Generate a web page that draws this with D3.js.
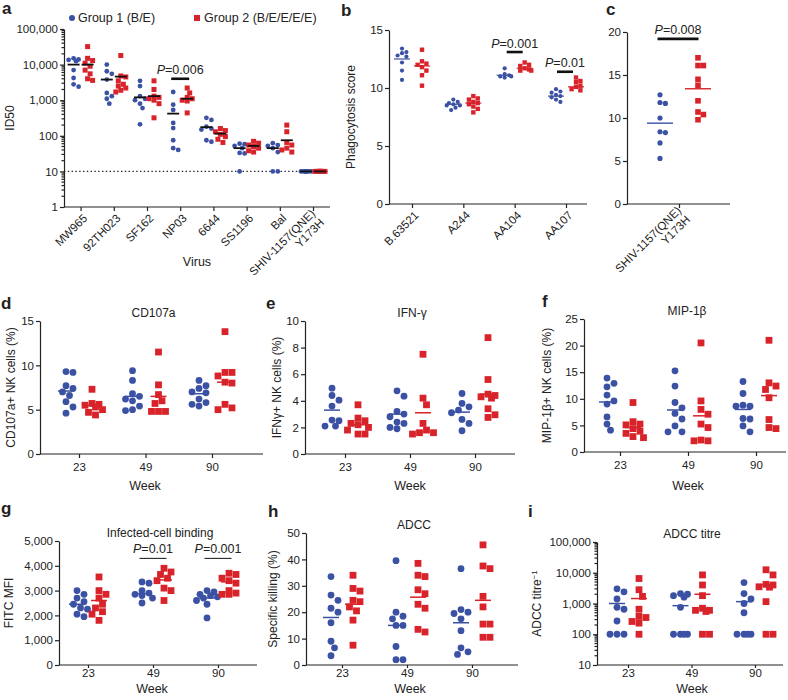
<!DOCTYPE html>
<html>
<head>
<meta charset="utf-8">
<script src="https://cdn.jsdelivr.net/npm/d3@7"></script>
<style>
  body { margin: 0; background: #fff; }
  text { font-family: "Liberation Sans", Arial, Helvetica, sans-serif; fill: #222; }
  .axis path, .axis line { stroke: #222; stroke-width: 1.2; }
</style>
</head>
<body>
<svg id="fig" width="788" height="700"></svg>
<script>
const BLUE = "#3b51a3";
const RED = "#d8232a";

// a: neutralisation ID50 per virus
const viruses = ["MW965", "92TH023", "SF162", "NP03", "6644", "SS1196", "Bal", "SHIV-1157(QNE)\nY173H"];
const id50G1 = [
  [15000, 14000, 13500, 12500, 7000, 4200, 2800, 2400],
  [10000, 6500, 5500, 3800, 1600, 1300, 1100, 800],
  [3500, 2500, 1300, 1100, 1000, 800, 600, 210],
  [1700, 750, 530, 230, 165, 75, 45, 40],
  [320, 280, 180, 160, 150, 75, 68],
  [60, 58, 52, 45, 33, 32, 10],
  [62, 55, 52, 45, 35, 10, 10],
  [10, 10, 10, 10, 10, 10, 10, 10]
];
const id50G2 = [
  [32000, 15000, 13000, 11000, 9000, 7000, 5500, 4000, 3600],
  [18000, 4800, 4500, 3500, 2800, 2500, 2200, 1900, 1700],
  [3500, 2000, 1300, 1200, 1100, 1000, 800, 320],
  [2200, 1600, 1200, 1100, 1000, 950, 440],
  [160, 140, 130, 110, 95, 80, 65],
  [70, 62, 55, 50, 45, 38, 35],
  [200, 130, 65, 55, 45, 40, 35],
  [10, 10, 10, 10, 10, 10, 10, 10]
];
const id50Mean1 = [10000, 3800, 1200, 420, 175, 45, 45, 10];
const id50Mean2 = [10000, 4600, 1300, 1100, 115, 52, 75, 10];

// b: phagocytosis
const phagoCats = ["B.63521", "A244", "AA104", "AA107"];
const phagoG1 = [
  [13.4, 13.1, 13.0, 12.8, 12.7, 12.2, 11.5, 10.7],
  [9.0, 8.8, 8.7, 8.6, 8.5, 8.5, 8.3, 8.1],
  [11.7, 11.2, 11.1, 11.0, 11.0, 10.9],
  [9.9, 9.7, 9.6, 9.4, 9.3, 9.2, 9.0, 8.8]
];
const phagoG2 = [
  [13.3, 12.3, 12.1, 12.0, 11.8, 11.5, 11.1, 10.2],
  [9.3, 9.1, 9.0, 8.8, 8.7, 8.6, 8.4, 8.2, 7.9],
  [12.2, 12.0, 11.9, 11.7, 11.6, 11.5, 11.5],
  [10.9, 10.6, 10.5, 10.2, 10.1, 9.9, 9.8]
];
const phagoMean1 = [12.5, 8.6, 11.1, 9.3];
const phagoMean2 = [11.9, 8.7, 11.7, 10.1];

// c: SHIV phagocytosis
const shivCats = ["SHIV-1157(QNE)\nY173H"];
const shivG1 = [[12.7, 11.8, 11.7, 10.0, 8.4, 8.3, 7.1, 5.3]];
const shivG2 = [[17.0, 16.1, 16.1, 14.5, 13.8, 12.0, 10.7, 10.4, 9.8]];
const shivMean1 = [9.4];
const shivMean2 = [13.4];

const weeks = ["23", "49", "90"];

// d: CD107a
const cd107G1 = [[9.3, 9.2, 7.7, 7.4, 7.0, 5.9, 5.3, 4.6, 6.6], [9.4, 8.3, 6.8, 6.5, 6.2, 6.0, 5.4, 5.0, 4.9], [8.3, 7.7, 7.4, 7.0, 6.9, 6.2, 5.8, 5.6, 5.4]];
const cd107G2 = [[7.3, 5.7, 5.6, 5.5, 5.3, 5.0, 4.7, 4.4], [11.5, 7.8, 6.7, 6.0, 5.7, 4.8, 4.8, 4.8], [13.8, 9.2, 9.2, 8.8, 8.1, 8.0, 5.6, 5.2, 5.0]];
const cd107Mean1 = [7.1, 6.5, 6.8];
const cd107Mean2 = [5.5, 6.5, 8.1];

// e: IFN-gamma
const ifnG1 = [[4.95, 4.4, 4.05, 3.6, 2.55, 2.5, 2.1, 2.1], [4.75, 4.35, 3.2, 3.0, 2.8, 2.4, 2.3, 2.0, 1.9], [4.55, 3.8, 3.55, 3.3, 3.1, 2.6, 2.3, 1.75]];
const ifnG2 = [[3.7, 2.7, 2.5, 2.3, 2.2, 2.0, 1.8, 1.5, 1.5], [7.5, 4.2, 3.7, 2.3, 1.8, 1.6, 1.6, 1.5], [8.75, 5.6, 4.5, 4.4, 4.3, 4.2, 3.4, 2.95, 2.75]];
const ifnMean1 = [3.3, 3.0, 3.15];
const ifnMean2 = [2.2, 3.1, 4.5];

// f: MIP-1beta
const mipG1 = [[13.9, 12.9, 12.25, 10.7, 9.6, 9.0, 6.6, 5.25, 4.1], [15.25, 12.4, 9.3, 8.3, 7.25, 6.2, 4.9, 3.8, 3.8], [13.25, 11.0, 8.8, 8.6, 8.6, 6.3, 6.2, 4.9, 3.8]];
const mipG2 = [[9.3, 5.7, 5.25, 5.1, 4.4, 3.9, 3.5, 2.9, 2.7], [20.5, 9.6, 8.0, 7.1, 5.25, 4.6, 2.25, 2.1, 2.1], [21.0, 13.0, 12.4, 11.75, 10.2, 6.1, 4.6, 4.4]];
const mipMean1 = [9.4, 7.9, 8.0];
const mipMean2 = [4.6, 6.8, 10.6];

// g: infected-cell binding
const bindG1 = [[3000, 2850, 2700, 2550, 2450, 2300, 2250, 2050, 1950], [3350, 3300, 3000, 2900, 2850, 2800, 2700, 2500], [3000, 2950, 2850, 2800, 2750, 2700, 2600, 2450, 1900]];
const bindG2 = [[3550, 3000, 2850, 2700, 2450, 2300, 2150, 2050, 1800], [3900, 3750, 3650, 3500, 3400, 3100, 3000, 2600], [3700, 3650, 3500, 3400, 3300, 3000, 2900, 2850, 2850]];
const bindMean1 = [2450, 2880, 2700];
const bindMean2 = [2600, 3430, 3350];

// h: ADCC specific killing
const adccG1 = [[33.5, 26.5, 24.5, 21.5, 20, 16, 9, 6.5, 3.5], [39.5, 20, 18.5, 17.5, 15, 15, 7, 2, 2], [36.5, 21, 20, 19.5, 17.5, 13, 6.5, 5, 4]];
const adccG2 = [[34, 29, 28, 24.5, 24, 22, 20.5, 17, 7.5], [38.5, 34, 33.5, 28.5, 27, 23, 21.5, 13.5, 12.5], [45.5, 37.5, 36.5, 26, 22, 15.5, 15.5, 10.5, 10.5]];
const adccMean1 = [18, 15, 16];
const adccMean2 = [23, 25.7, 24.5];

// i: ADCC titre
const titreG1 = [[3000, 2400, 1400, 750, 650, 270, 100, 100, 100], [2100, 2000, 1800, 1600, 750, 100, 100, 100, 100], [4800, 2100, 1400, 1000, 500, 100, 100, 100, 100]];
const titreG2 = [[6500, 2800, 1700, 650, 380, 350, 260, 230, 100], [8500, 4000, 1800, 700, 600, 600, 550, 100, 100], [12500, 8500, 4200, 4000, 3500, 3400, 1150, 100, 100]];
const titreMean1 = [1000, 850, 1150];
const titreMean2 = [1450, 2000, 4000];

const svg = d3.select("#fig");
const comma = d3.format(",");

// simple beeswarm so points with similar values sit side by side
function swarm(vals, y, cx, dist, maxOff) {
  const pts = vals.map(v => ({ v, y: y(v) })).sort((a, b) => a.y - b.y);
  const done = [];
  pts.forEach(p => {
    let best = cx, bestD = -1;
    for (let k = 0; k < 40; k++) {
      const dx = k === 0 ? 0 : (k % 2 ? 1 : -1) * Math.ceil(k / 2) * dist / 2;
      if (Math.abs(dx) > maxOff) continue;
      const x = cx + dx;
      const dmin = done.length ? d3.min(done, q => Math.hypot(q.x - x, q.y - p.y)) : Infinity;
      if (dmin >= dist) { best = x; break; }
      if (dmin > bestD) { bestD = dmin; best = x; }
    }
    p.x = best;
    done.push(p);
  });
  return done;
}

function dotPanel(o) {
  const g = svg.append("g");
  const y = (o.log ? d3.scaleLog() : d3.scaleLinear()).domain(o.yDomain).range([o.bottom, o.top]);
  const x = d3.scalePoint().domain(o.cats).range([o.c0, o.c1]);

  const ya = g.append("g").attr("class", "axis")
    .attr("transform", `translate(${o.x0},0)`)
    .call(d3.axisLeft(y).tickValues(o.yTicks).tickFormat(o.fmt || comma).tickSize(4).tickSizeOuter(0))
    .attr("font-size", 11.5);
  ya.selectAll(".tick text").attr("x", -6);
  if (o.log) {
    const minor = [];
    d3.range(Math.log10(o.yDomain[0]), Math.log10(o.yDomain[1])).forEach(k => {
      d3.range(2, 10).forEach(m => minor.push(m * Math.pow(10, k)));
    });
    ya.selectAll(".minor").data(minor).join("line")
      .attr("x1", -2.5).attr("x2", 0)
      .attr("y1", d => y(d)).attr("y2", d => y(d))
      .attr("stroke", "#222").attr("stroke-width", 0.8);
  }

  const xa = g.append("g").attr("class", "axis")
    .attr("transform", `translate(0,${o.bottom})`)
    .call(d3.axisBottom(x).tickSize(o.xTick || 4).tickSizeOuter(0))
    .attr("font-size", 11.5);
  xa.select(".domain").attr("d", `M${o.x0},0H${o.x1}`);
  if (o.rotate) {
    xa.selectAll(".tick text").each(function (d) {
      const t = d3.select(this).text("").attr("y", 0).attr("dy", null)
        .attr("text-anchor", "end").attr("transform", "translate(4,9) rotate(-45)");
      const lines = d.split("\n");
      lines.forEach((s, i) => t.append("tspan").attr("x", 0)
        .attr("dy", i === 0 ? `${0.35 - (lines.length - 1) * 0.55}em` : "1.1em").text(s));
    });
  } else {
    xa.selectAll(".tick text").attr("y", o.xPad || 9);
  }

  if (o.refLine) {
    g.append("line").attr("x1", o.x0).attr("x2", o.x1)
      .attr("y1", y(o.refLine)).attr("y2", y(o.refLine))
      .attr("stroke", "#223").attr("stroke-width", 1.2).attr("stroke-dasharray", "1.4,2.4");
  }

  o.cats.forEach((c, i) => {
    const cb = x(c) - o.off, cr = x(c) + o.off;
    const pb = swarm(o.g1[i], y, cb, o.dist, o.maxOff);
    const pr = swarm(o.g2[i], y, cr, o.dist, o.maxOff);
    g.append("g").selectAll("circle").data(pb).join("circle")
      .attr("cx", d => d.x).attr("cy", d => d.y).attr("r", o.r).attr("fill", BLUE);
    g.append("g").selectAll("rect").data(pr).join("rect")
      .attr("x", d => d.x - o.sq / 2).attr("y", d => d.y - o.sq / 2)
      .attr("width", o.sq).attr("height", o.sq).attr("fill", RED);
    [[cb, o.m1[i], BLUE], [cr, o.m2[i], RED]].forEach(([cx, m, col]) => {
      g.append("line").attr("x1", cx - o.meanW / 2).attr("x2", cx + o.meanW / 2)
        .attr("y1", y(m)).attr("y2", y(m))
        .attr("stroke", o.meanColor || col).attr("stroke-width", o.meanSW || 1.4);
    });
  });

  (o.pvals || []).forEach(p => {
    const cx = x(p.cat) + (p.shift || 0);
    const ly = y(p.level);
    g.append("line").attr("x1", cx - p.w / 2).attr("x2", cx + p.w / 2)
      .attr("y1", ly).attr("y2", ly).attr("stroke", "#111").attr("stroke-width", p.sw);
    const t = g.append("text").attr("x", cx).attr("y", ly - p.gap)
      .attr("text-anchor", "middle").attr("font-size", 12.5);
    t.append("tspan").attr("font-style", "italic").text("P");
    t.append("tspan").text("=" + p.label);
  });

  if (o.title) {
    g.append("text").attr("x", (o.x0 + o.x1) / 2 + 2).attr("y", o.top - 4)
      .attr("text-anchor", "middle").attr("font-size", 12).text(o.title);
  }
  if (o.ylab) {
    const t = g.append("text").attr("transform", `translate(${o.ylabX},${(o.top + o.bottom) / 2}) rotate(-90)`)
      .attr("text-anchor", "middle").attr("font-size", 12).text(o.ylab);
    if (o.ylabSup) t.append("tspan").attr("dy", "-0.45em").attr("font-size", 8).text(o.ylabSup);
  }
  if (o.xlab) {
    g.append("text").attr("x", o.xlabX).attr("y", o.xlabY)
      .attr("text-anchor", "middle").attr("font-size", 12.5).text(o.xlab);
  }
  svg.append("text").attr("x", o.letter[1]).attr("y", o.letter[2])
    .attr("font-size", 17).attr("font-weight", "bold").text(o.letter[0]);
  return { x, y };
}

const rowPanel = { r: 3.4, sq: 6.8, dist: 7, maxOff: 12, meanW: 16, meanSW: 1.5 };
const lowRow = { xTick: 3, xPad: 4 };

dotPanel({
  x0: 64, x1: 330, top: 29, bottom: 207, c0: 80.6, c1: 313, cats: viruses,
  log: true, yDomain: [1, 100000], yTicks: [1, 10, 100, 1000, 10000, 100000],
  g1: id50G1, g2: id50G2, m1: id50Mean1, m2: id50Mean2,
  off: 7, r: 2.4, sq: 5, dist: 5, maxOff: 6, meanW: 12, meanColor: "#111", meanSW: 1.8,
  rotate: true, refLine: 10,
  pvals: [{ cat: "NP03", level: 4000, w: 18, sw: 2.6, gap: 5, label: "0.006" }],
  ylab: "ID50", ylabX: 14, xlab: "Virus", xlabX: 197, xlabY: 266, letter: ["a", 2, 14]
});

// legend for panel a
svg.append("circle").attr("cx", 72).attr("cy", 18).attr("r", 3).attr("fill", BLUE);
svg.append("text").attr("x", 78).attr("y", 22).attr("font-size", 12.5).text("Group 1 (B/E)");
svg.append("rect").attr("x", 194).attr("y", 15).attr("width", 6).attr("height", 6).attr("fill", RED);
svg.append("text").attr("x", 204).attr("y", 22).attr("font-size", 12.5).text("Group 2 (B/E/E/E/E)");

dotPanel({
  x0: 389, x1: 587, top: 30, bottom: 204, c0: 412, c1: 566, cats: phagoCats,
  yDomain: [0, 15], yTicks: [0, 5, 10, 15], fmt: d3.format("d"),
  g1: phagoG1, g2: phagoG2, m1: phagoMean1, m2: phagoMean2,
  off: 10, r: 2.1, sq: 4.4, dist: 4.4, maxOff: 7, meanW: 16, meanSW: 1.2, rotate: true,
  pvals: [
    { cat: "AA104", shift: 0, level: 13.1, w: 16, sw: 2.6, gap: 4, label: "0.001" },
    { cat: "AA107", shift: -1, level: 11.4, w: 16, sw: 2.6, gap: 5, label: "0.01" }
  ],
  ylab: "Phagocytosis score", ylabX: 355, letter: ["b", 341, 16]
});

dotPanel({
  x0: 627, x1: 730, top: 32, bottom: 204, c0: 679, c1: 679, cats: shivCats,
  yDomain: [0, 20], yTicks: [0, 5, 10, 15, 20], fmt: d3.format("d"),
  g1: shivG1, g2: shivG2, m1: shivMean1, m2: shivMean2,
  off: 19, r: 2.6, sq: 5.6, dist: 5.4, maxOff: 6, meanW: 26, meanSW: 1.4, rotate: true,
  pvals: [{ cat: shivCats[0], shift: -1, level: 19.2, w: 41, sw: 2.6, gap: 5, label: "0.008" }],
  letter: ["c", 606, 15]
});

dotPanel(Object.assign({}, rowPanel, {
  x0: 40, x1: 263, top: 321, bottom: 454, c0: 79, c1: 212, cats: weeks,
  yDomain: [0, 15], yTicks: [0, 5, 10, 15], fmt: d3.format("d"), off: 13,
  g1: cd107G1, g2: cd107G2, m1: cd107Mean1, m2: cd107Mean2,
  title: "CD107a", ylab: "CD107a+ NK cells (%)", ylabX: 15,
  xlab: "Week", xlabX: 145, xlabY: 490, letter: ["d", 1, 309]
}));

dotPanel(Object.assign({}, rowPanel, {
  x0: 305, x1: 515, top: 321, bottom: 454, c0: 345, c1: 475, cats: weeks,
  yDomain: [0, 10], yTicks: [0, 2, 4, 6, 8, 10], fmt: d3.format("d"), off: 13,
  g1: ifnG1, g2: ifnG2, m1: ifnMean1, m2: ifnMean2,
  title: "IFN-\u03b3", ylab: "IFN\u03b3+ NK cells (%)", ylabX: 281,
  xlab: "Week", xlabX: 410, xlabY: 490, letter: ["e", 266, 309]
}));

dotPanel(Object.assign({}, rowPanel, {
  x0: 584, x1: 786, top: 319, bottom: 452, c0: 620, c1: 756, cats: weeks,
  yDomain: [0, 25], yTicks: [0, 5, 10, 15, 20, 25], fmt: d3.format("d"), off: 13,
  g1: mipG1, g2: mipG2, m1: mipMean1, m2: mipMean2,
  title: "MIP-1\u03b2", ylab: "MIP-1\u03b2+ NK cells (%)", ylabX: 551,
  xlab: "Week", xlabX: 688, xlabY: 490, letter: ["f", 542, 307]
}));

dotPanel(Object.assign({}, rowPanel, lowRow, {
  x0: 59, x1: 257, top: 541, bottom: 665, c0: 88, c1: 218, cats: weeks,
  yDomain: [0, 5000], yTicks: [0, 1000, 2000, 3000, 4000, 5000], off: 11,
  g1: bindG1, g2: bindG2, m1: bindMean1, m2: bindMean2,
  pvals: [
    { cat: "49", level: 4300, w: 27, sw: 1, gap: 5, label: "0.01" },
    { cat: "90", level: 4300, w: 27, sw: 1, gap: 5, label: "0.001" }
  ],
  title: "Infected-cell binding", ylab: "FITC MFI", ylabX: 13,
  xlab: "Week", xlabX: 152, xlabY: 693, letter: ["g", 1, 514]
}));

dotPanel(Object.assign({}, rowPanel, lowRow, {
  x0: 306, x1: 518, top: 533, bottom: 665, c0: 342, c1: 472, cats: weeks,
  yDomain: [0, 50], yTicks: [0, 10, 20, 30, 40, 50], fmt: d3.format("d"), off: 11,
  g1: adccG1, g2: adccG2, m1: adccMean1, m2: adccMean2,
  title: "ADCC", ylab: "Specific killing (%)", ylabX: 277,
  xlab: "Week", xlabX: 410, xlabY: 693, letter: ["h", 268, 517]
}));

dotPanel(Object.assign({}, rowPanel, lowRow, {
  x0: 597, x1: 783, top: 542, bottom: 665, c0: 628, c1: 755, cats: weeks,
  log: true, yDomain: [10, 100000], yTicks: [10, 100, 1000, 10000, 100000], off: 11,
  g1: titreG1, g2: titreG2, m1: titreMean1, m2: titreMean2,
  title: "ADCC titre", ylab: "ADCC titre", ylabSup: "\u22121", ylabX: 541,
  xlab: "Week", xlabX: 692, xlabY: 693, letter: ["i", 528, 517]
}));
</script>
</body>
</html>
